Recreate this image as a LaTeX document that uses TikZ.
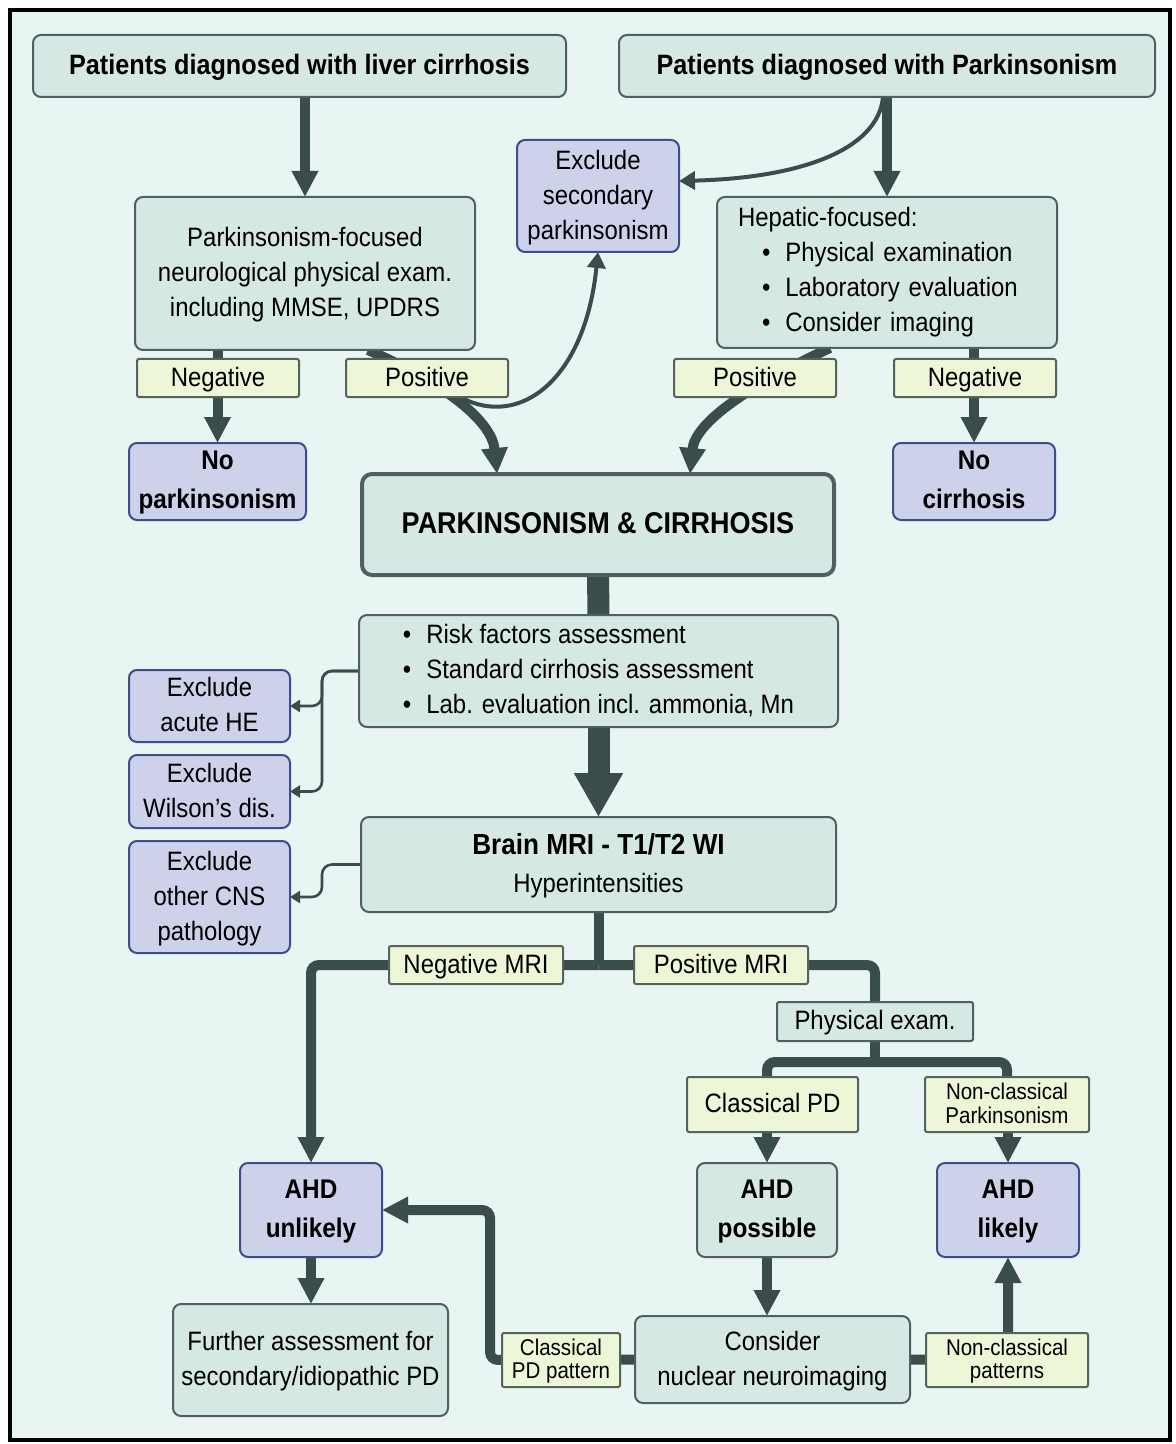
\documentclass[tikz,border=0pt]{standalone}
\usepackage{fontspec}
\setmainfont{Liberation Sans}[FakeStretch=0.9]
\usetikzlibrary{arrows.meta,calc}
\definecolor{bgc}{HTML}{E8F5F3}
\definecolor{tealf}{HTML}{D5E8E3}
\definecolor{tealb}{HTML}{4F605E}
\definecolor{purpf}{HTML}{CDD2EA}
\definecolor{purpb}{HTML}{3E4C8A}
\definecolor{labf}{HTML}{EEF6D8}
\definecolor{labb}{HTML}{56625C}
\definecolor{arrc}{HTML}{3A4D4B}
\newcommand{\fs}[2]{\fontsize{#1}{#2}\selectfont}
\pgfdeclarelayer{back}
\pgfdeclarelayer{conn}
\pgfsetlayers{back,conn,main}
\tikzset{
  rect/.style n args={4}{minimum width={(#3-#1)*0.5pt}, minimum height={(#4-#2)*0.5pt}, at={({(#1+#3)/2},{(#2+#4)/2})}},
  base/.style={inner sep=0pt, outer sep=0pt, line width=1pt, align=center, font=\fs{13.3pt}{17.5pt}, text depth=1.3pt},
  tbox/.style={base, draw=tealb, fill=tealf, rounded corners=4pt},
  pbox/.style={base, draw=purpb, fill=purpf, rounded corners=4pt},
  lab/.style={base, draw=labb, fill=labf, rounded corners=1pt},
  small/.style={font=\fs{11.4pt}{11.6pt}, text depth=1.2pt},
  bold/.style={font=\bfseries\fs{13.5pt}{19.5pt}},
  conn/.style={draw=arrc, line width=5pt},
  arr/.style={conn, -{Triangle[width=12.5pt,length=13pt]}},
  thinarr/.style={draw=arrc, line width=2pt, -{Triangle[width=9pt,length=8pt]}},
  brk/.style={draw=arrc, line width=1.3pt, rounded corners=5pt, -{Triangle[width=6pt,length=5pt]}},
}
\begin{document}
\begin{tikzpicture}[x=0.5pt,y=-0.5pt]
\useasboundingbox (0,0) rectangle (1175,1444);
\begin{pgfonlayer}{back}
\fill[white] (0,0) rectangle (1175,1444);
\draw[line width=2pt, fill=bgc] (9.5,10) rectangle (1170,1440);
\end{pgfonlayer}

% nodes
\node[tbox, rect={33}{35}{566}{97}, font=\bfseries\fs{14pt}{17pt}] (liver) {Patients diagnosed with liver cirrhosis};
\node[tbox, rect={619}{35}{1155}{97}, font=\bfseries\fs{14pt}{17pt}] (park) {Patients diagnosed with Parkinsonism};
\node[tbox, rect={135}{197}{475}{350}] (pf) {Parkinsonism-focused\\neurological physical exam.\\including MMSE, UPDRS};
\node[pbox, rect={517}{140}{679}{252}] (excl) {Exclude\\secondary\\parkinsonism};
\node[tbox, rect={717}{197}{1057}{348}, text width=149pt, align=left, text depth={}] (hep) {Hepatic-focused:\\
\hspace*{12pt}\textbullet\hspace{7.5pt}Physical examination\\
\hspace*{12pt}\textbullet\hspace{7.5pt}Laboratory evaluation\\
\hspace*{12pt}\textbullet\hspace{7.5pt}Consider imaging};
\node[lab, rect={137}{359}{299}{397}] (negL) {Negative};
\node[lab, rect={346}{359}{508}{397}] (posL) {Positive};
\node[lab, rect={674}{359}{836}{397}] (posR) {Positive};
\node[lab, rect={894}{359}{1056}{397}] (negR) {Negative};
\node[pbox, bold, rect={129}{443}{306}{520}] (nopark) {No\\parkinsonism};
\node[pbox, bold, rect={893}{443}{1055}{520}] (nocir) {No\\cirrhosis};
\node[tbox, line width=2pt, rounded corners=5pt, rect={362}{474}{834}{575}, font=\bfseries\fs{15pt}{18pt}] (pc) {PARKINSONISM \& CIRRHOSIS};
\node[tbox, rect={359}{615}{838}{727}, text depth={}] (risk) {\begin{tabular}{@{}l@{\hspace{7.5pt}}l@{}}\textbullet&Risk factors assessment\\ \textbullet&Standard cirrhosis assessment\\ \textbullet&Lab. evaluation incl. ammonia, Mn\end{tabular}};
\node[pbox, rect={129}{670}{290}{742}] (exHE) {Exclude\\acute HE};
\node[pbox, rect={129}{755}{290}{828}] (exW) {Exclude\\Wilson's dis.};
\node[pbox, rect={129}{841}{290}{953}] (exC) {Exclude\\other CNS\\pathology};
\node[tbox, rect={361}{817}{836}{912}] (mri) {{\bfseries\fs{14.5pt}{19pt}Brain MRI - T1/T2 WI}\\[1.5pt]Hyperintensities};
\node[lab, rect={389}{946}{563}{984}] (negM) {Negative MRI};
\node[lab, rect={634}{946}{808}{984}] (posM) {Positive MRI};
\node[tbox, rounded corners=1pt, rect={777}{1002}{973}{1041}] (pe) {Physical exam.};
\node[lab, rect={687}{1077}{858}{1132}] (cpd) {Classical PD};
\node[lab, small, rect={925}{1077}{1089}{1132}] (ncp) {Non-classical\\Parkinsonism};
\node[pbox, bold, rect={240}{1163}{382}{1257}] (unl) {AHD\\unlikely};
\node[tbox, bold, rect={697}{1163}{837}{1257}] (pos) {AHD\\possible};
\node[pbox, bold, rect={937}{1163}{1079}{1257}] (lik) {AHD\\likely};
\node[tbox, rect={173}{1304}{448}{1416}] (fur) {Further assessment for\\secondary/idiopathic PD};
\node[lab, small, rect={502}{1333}{620}{1387}] (cpat) {Classical\\PD pattern};
\node[tbox, rect={635}{1316}{910}{1403}] (cons) {Consider\\nuclear neuroimaging};
\node[lab, small, rect={926}{1333}{1088}{1387}] (ncpat) {Non-classical\\patterns};

% connectors
\begin{pgfonlayer}{conn}
\draw[arr] (pf.north |- liver.south) -- (pf.north);
\draw[arr] (park.south) -- (hep.north);
\draw[thinarr] ($(park.south)+(-4,0)$) .. controls (878,150) and (800,178) .. ($(excl.east)+(0,-15)$);
\draw[arr] (nopark.north |- pf.south) -- (nopark.north);
\draw[arr] (nocir.north |- hep.south) -- (nocir.north);
\draw[arr] ($(pf.south)+(63,0)$) .. controls (448,385) and (492,422) .. ($(pc.north)+(-101,0)$);
\draw[arr] ($(hep.south)+(-57,0)$) .. controls (750,385) and (695,422) .. ($(pc.north)+(92,0)$);
\draw[thinarr] ($(posL.south)+(35,1)$) .. controls (520,428) and (585,380) .. (excl.south);
\draw[draw=arrc, line width=11pt] (pc.south) -- (risk.north);
\draw[draw=arrc, line width=11pt, -{Triangle[width=23pt,length=22pt]}] (risk.south) -- (mri.north);
\coordinate (bx) at (322,700);
\draw[brk] (risk.west) -| (bx |- exHE.east) -- (exHE.east);
\draw[brk] (risk.west) -| (bx |- exW.east) -- (exW.east);
\draw[brk] (mri.west) -| (bx |- exC.east) -- (exC.east);
\coordinate (mj) at (mri.south |- negM.center);
\draw[conn] (mri.south) -- (mj);
\draw[arr, rounded corners=4pt] (mj) -| (unl.north);
\draw[conn, rounded corners=4pt] (mj) -| (pe.north);
\coordinate (pj) at ($(pe.south)+(0,21)$);
\draw[conn] (pe.south) -- (pj);
\draw[conn, rounded corners=4pt] (pos.north |- cpd.north) |- (pj) -| (ncp.north);
\draw[arr] (pos.north |- cpd.south) -- (pos.north);
\draw[arr] (lik.north |- ncp.south) -- (lik.north);
\draw[arr] (unl.south) -- (unl.south |- fur.north);
\draw[arr] (pos.south) -- (pos.south |- cons.north);
\coordinate (lp) at ($(cpat.west)+(-12,0)$);
\draw[arr, rounded corners=4pt] (cons.west) -- (lp) |- (unl.east);
\draw[arr, rounded corners=4pt] (cons.east) -| (lik.south);
\end{pgfonlayer}
\end{tikzpicture}
\end{document}
